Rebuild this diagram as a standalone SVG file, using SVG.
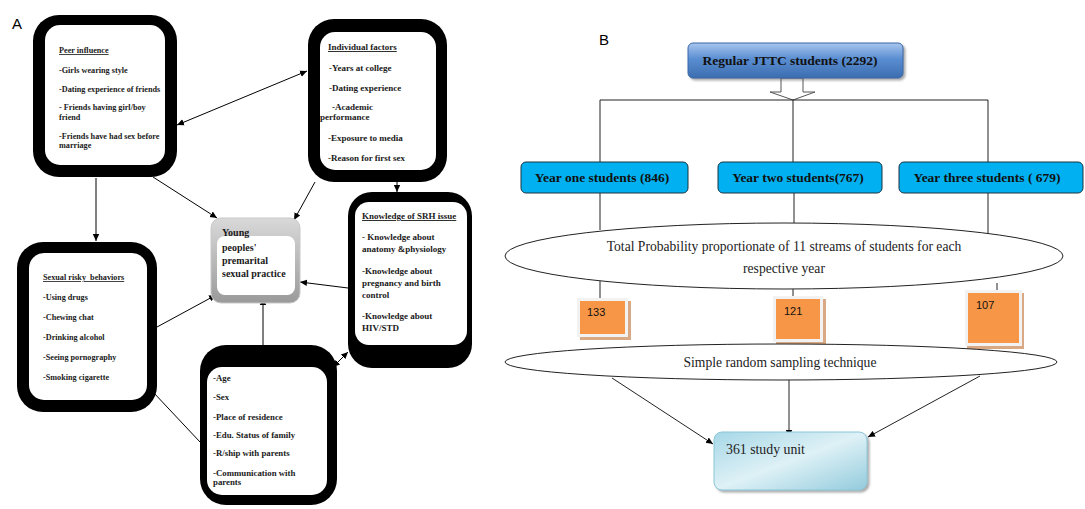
<svg xmlns="http://www.w3.org/2000/svg" width="1085" height="509" viewBox="0 0 1085 509">
<style>
.fr{fill:#000}
.in{fill:#fff}
.ta{font-family:"Liberation Serif",serif;font-weight:bold;fill:#1a1a1a}
.s8{font-size:8.2px}
.s9{font-size:9px}
.ul{text-decoration:underline}
.ln{stroke:#000;stroke-width:1;fill:none}
.lb{stroke:#222;stroke-width:1;fill:none}
.yb{fill:#00b0f0;stroke:#1d3340;stroke-width:1}
.yt{font-family:"Liberation Serif",serif;font-weight:bold;font-size:13.5px;fill:#111;text-anchor:middle}
.et{font-family:"Liberation Serif",serif;font-size:13.6px;fill:#222;text-anchor:middle}
.ot{font-family:"Liberation Sans",sans-serif;font-size:11px;fill:#111}
.or{fill:#f79646;stroke:#f2f2f2;stroke-width:3}
.os{fill:#d8a984}
.lab{font-family:"Liberation Sans",sans-serif;font-size:15px;fill:#000}
</style>
<defs>
<marker id="ah" markerWidth="8" markerHeight="8" refX="7" refY="4" orient="auto-start-reverse" markerUnits="userSpaceOnUse">
<path d="M0,0.8 L7,4 L0,7.2 Z" fill="#000"/>
</marker>
<linearGradient id="gTop" x1="0" y1="0" x2="0" y2="1">
<stop offset="0" stop-color="#a9c6ee"/>
<stop offset="0.45" stop-color="#5a8ed2"/>
<stop offset="1" stop-color="#3c6db0"/>
</linearGradient>
<linearGradient id="gStudy" x1="0" y1="0" x2="1" y2="1">
<stop offset="0" stop-color="#a6d7e6"/>
<stop offset="0.5" stop-color="#def1f6"/>
<stop offset="1" stop-color="#93cbdc"/>
</linearGradient>
<linearGradient id="gCen" x1="0" y1="0" x2="0" y2="1">
<stop offset="0" stop-color="#d9d9d9"/>
<stop offset="1" stop-color="#9a9a9a"/>
</linearGradient>
<filter id="sh" x="-10%" y="-10%" width="130%" height="140%">
<feDropShadow dx="2" dy="2" stdDeviation="1.2" flood-color="#555" flood-opacity="0.5"/>
</filter>
</defs>

<text class="lab" x="12" y="29">A</text>
<text class="lab" x="599" y="45">B</text>

<g id="connectors">
<line class="ln" x1="177" y1="125" x2="307" y2="71" marker-start="url(#ah)" marker-end="url(#ah)"/>
<line class="ln" x1="96" y1="178" x2="96" y2="241" marker-end="url(#ah)"/>
<line class="ln" x1="153" y1="177" x2="217" y2="218" marker-end="url(#ah)"/>
<line class="ln" x1="315" y1="182" x2="294" y2="220" marker-end="url(#ah)"/>
<line class="ln" x1="397" y1="182" x2="397" y2="192" marker-end="url(#ah)"/>
<line class="ln" x1="348" y1="288" x2="300" y2="282" marker-end="url(#ah)"/>
<line class="ln" x1="157" y1="327" x2="216" y2="295" marker-end="url(#ah)"/>
<line class="ln" x1="263" y1="345" x2="263" y2="298" marker-end="url(#ah)"/>
<line class="ln" x1="333" y1="367" x2="348" y2="352" marker-start="url(#ah)" marker-end="url(#ah)"/>
<line class="ln" x1="153" y1="392" x2="200" y2="442"/>

<path d="M781,78 H803 V92 H815 L793,100 L770,92 H781 Z" fill="#fff" stroke="#555" stroke-width="1"/>
<path class="lb" d="M600,100 H988 M600,100 V162 M793,100 V162 M988,100 V162"/>
<path class="lb" d="M600,193 V230 M794,193 V223 M988,193 V234"/>
<path class="lb" d="M600,281 V298 M793,289 V296 M997,283 V290"/>
<line class="lb" x1="612" y1="378" x2="713" y2="444" marker-end="url(#ah)"/>
<line class="lb" x1="789" y1="380" x2="789" y2="437" marker-end="url(#ah)"/>
<line class="lb" x1="980" y1="376" x2="868" y2="437" marker-end="url(#ah)"/>
</g>

<g id="peer-influence">
<rect class="fr" x="33" y="15" width="144" height="162" rx="26"/>
<rect class="in" x="45" y="25" width="120" height="140" rx="15"/>
<text class="ta s8" x="59"><tspan class="ul" x="59" y="53">Peer influence</tspan><tspan x="59" y="73">-Girls wearing style</tspan><tspan x="59" y="92">-Dating experience of friends</tspan><tspan x="59" y="110">- Friends having girl/boy</tspan><tspan x="59" y="120">friend</tspan><tspan x="59" y="139">-Friends have had sex before</tspan><tspan x="59" y="148">marriage</tspan></text>
</g>

<g id="individual-factors">
<rect class="fr" x="308" y="19" width="139" height="163" rx="26"/>
<rect class="in" x="320" y="32" width="116" height="138" rx="15"/>
<text class="ta s9"><tspan class="ul" x="328" y="50">Individual factors</tspan><tspan x="329" y="71">-Years at college</tspan><tspan x="329" y="91">-Dating experience</tspan><tspan x="332" y="110">-Academic</tspan><tspan x="320" y="120">performance</tspan><tspan x="328" y="141">-Exposure to media</tspan><tspan x="328" y="161">-Reason for first sex</tspan></text>
</g>

<g id="knowledge-srh">
<rect class="fr" x="348" y="192" width="124" height="176" rx="24"/>
<rect class="in" x="355" y="202" width="112" height="143" rx="14"/>
<text class="ta s9"><tspan class="ul" x="362" y="219">Knowledge of SRH issue</tspan><tspan x="362" y="240">- Knowledge about</tspan><tspan x="362" y="252">anatomy &amp;physiology</tspan><tspan x="362" y="274">-Knowledge about</tspan><tspan x="362" y="286">pregnancy and birth</tspan><tspan x="362" y="298">control</tspan><tspan x="362" y="319">-Knowledge about</tspan><tspan x="362" y="331">HIV/STD</tspan></text>
</g>

<g id="sexual-risky">
<rect class="fr" x="17" y="242" width="140" height="170" rx="26"/>
<rect class="in" x="29" y="253" width="118" height="147" rx="15"/>
<text class="ta s8" style="white-space:pre"><tspan class="ul" x="43" y="280">Sexual risky  behaviors</tspan><tspan x="43" y="300">-Using drugs</tspan><tspan x="43" y="320">-Chewing chat</tspan><tspan x="43" y="340">-Drinking alcohol</tspan><tspan x="43" y="360">-Seeing pornography</tspan><tspan x="43" y="380">-Smoking cigarette</tspan></text>
</g>

<g id="central">
<rect x="211" y="218" width="89" height="85" rx="10" fill="url(#gCen)" stroke="#c8c8c8" stroke-width="1"/>
<rect x="217" y="236" width="78" height="59" rx="8" fill="#fff"/>
<text class="ta" style="font-size:10px"><tspan x="222" y="236">Young</tspan><tspan x="222" y="251">peoples'</tspan><tspan x="222" y="264">premarital</tspan><tspan x="222" y="277">sexual practice</tspan></text>
</g>

<g id="background-factors">
<rect class="fr" x="200" y="345" width="137" height="160" rx="26"/>
<rect class="in" x="207" y="367" width="120" height="128" rx="15"/>
<text class="ta" style="font-size:8.8px"><tspan x="213" y="381">-Age</tspan><tspan x="213" y="400">-Sex</tspan><tspan x="213" y="420">-Place of residence</tspan><tspan x="213" y="438">-Edu. Status of family</tspan><tspan x="213" y="456">-R/ship with parents</tspan><tspan x="213" y="476">-Communication with</tspan><tspan x="213" y="485">parents</tspan></text>
</g>

<g id="regular-students">
<rect x="688" y="43" width="215" height="35" rx="5" fill="url(#gTop)" stroke="#3a69a6" stroke-width="1" filter="url(#sh)"/>
<text class="yt" x="790" y="65">Regular JTTC students (2292)</text>
</g>

<g id="year-one">
<rect class="yb" x="521" y="162" width="167" height="31" rx="5"/>
<text class="yt" x="602" y="182">Year one students (846)</text>
</g>
<g id="year-two">
<rect class="yb" x="718" y="162" width="164" height="31" rx="5"/>
<text class="yt" x="798" y="182">Year two students(767)</text>
</g>
<g id="year-three">
<rect class="yb" x="899" y="162" width="184" height="31" rx="5"/>
<text class="yt" x="987" y="182">Year three students ( 679)</text>
</g>

<g id="ppt-ellipse">
<ellipse cx="784" cy="256" rx="279" ry="33" fill="#fff" stroke="#222" stroke-width="1"/>
<text class="et" x="784" y="251">Total Probability proportionate of 11 streams of students for each</text>
<text class="et" x="784" y="273">respective year</text>
</g>

<g id="n133">
<rect class="os" x="580" y="301" width="51" height="39"/>
<rect class="or" x="578.5" y="299.5" width="48" height="36"/>
<text class="ot" x="587" y="316">133</text>
</g>
<g id="n121">
<rect class="os" x="776" y="299" width="50" height="46"/>
<rect class="or" x="774.5" y="297.5" width="47" height="43"/>
<text class="ot" x="784" y="315">121</text>
</g>
<g id="n107">
<rect class="os" x="967" y="293" width="57" height="56"/>
<rect class="or" x="966.5" y="291.5" width="54" height="53"/>
<text class="ot" x="976" y="309">107</text>
</g>

<g id="srs-ellipse">
<ellipse cx="781" cy="362" rx="276" ry="18" fill="#fff" stroke="#222" stroke-width="1"/>
<text class="et" x="780" y="367">Simple random sampling technique</text>
</g>

<g id="study-unit">
<rect x="714" y="432" width="153" height="58" rx="8" fill="url(#gStudy)" stroke="#8cc6d8" stroke-width="1" filter="url(#sh)"/>
<text class="et" x="726" y="454" style="text-anchor:start;font-size:13.8px">361 study unit</text>
</g>
</svg>
